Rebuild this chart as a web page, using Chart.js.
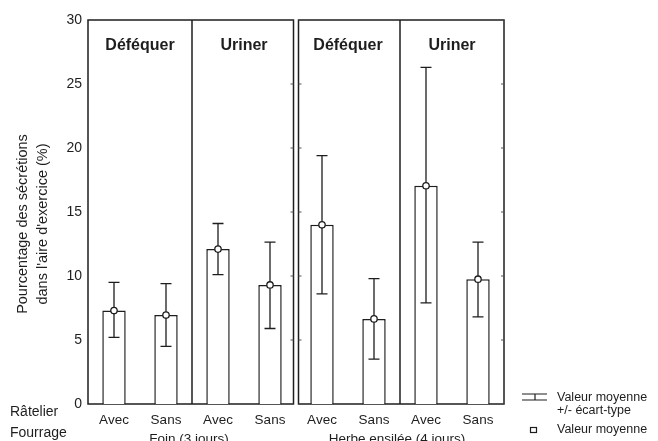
<!DOCTYPE html>
<html>
<head>
<meta charset="utf-8">
<script src="https://cdn.jsdelivr.net/npm/chart.js@4.4.1/dist/chart.umd.min.js"></script>
<style>
  body { margin: 0; background: #fff; }
  #wrap { width: 658px; height: 441px; }
</style>
</head>
<body>
<div id="wrap"><canvas id="chart" width="658" height="441"></canvas></div>
<script>
// categories (Râtelier), per fourrage group
const racks = ['Avec', 'Sans', 'Avec', 'Sans', 'Avec', 'Sans', 'Avec', 'Sans'];
const fodders = ['Foin (3 jours)', 'Herbe ensilée (4 jours)'];
const actions = ['Déféquer', 'Uriner', 'Déféquer', 'Uriner'];

// mean and mean +/- SD (%)
const means  = [7.3, 6.95, 12.1, 9.3, 14.0, 6.65, 17.05, 9.75];
const sdLow  = [5.2, 4.5, 10.1, 5.9, 8.6, 3.5, 7.9, 6.8];
const sdHigh = [9.5, 9.4, 14.1, 12.65, 19.4, 9.8, 26.3, 12.65];

const yTicks = [0, 5, 10, 15, 20, 25, 30];

const FONT = '"Liberation Sans", Arial, sans-serif';
const INK = '#1e1e1e';

// panel boxes, dividers and all the extra text
const decor = {
  id: 'decor',
  beforeDatasetsDraw(chart) {
    const { ctx, chartArea: a, scales: { x, y } } = chart;
    const mid = (x.getPixelForValue(3) + x.getPixelForValue(4)) / 2;
    ctx.save();
    ctx.strokeStyle = INK;
    ctx.lineWidth = 1.5;
    ctx.strokeRect(a.left, a.top, mid - 2.5 - a.left, a.bottom - a.top);
    ctx.strokeRect(mid + 2.5, a.top, a.right - mid - 2.5, a.bottom - a.top);
    // dividers between Déféquer / Uriner
    [1, 5].forEach(i => {
      const dx = (x.getPixelForValue(i) + x.getPixelForValue(i + 1)) / 2;
      ctx.beginPath();
      ctx.moveTo(dx, a.top);
      ctx.lineTo(dx, a.bottom);
      ctx.stroke();
    });
    // small inward ticks
    ctx.lineWidth = 1;
    ctx.strokeStyle = '#555';
    yTicks.forEach(v => {
      const py = y.getPixelForValue(v);
      [[mid - 2.5, -3], [mid + 2.5, 3], [a.right, -3]].forEach(([px, d]) => {
        ctx.beginPath();
        ctx.moveTo(px, py);
        ctx.lineTo(px + d, py);
        ctx.stroke();
      });
    });
    ctx.restore();
  },
  afterDraw(chart) {
    const { ctx, scales: { x } } = chart;
    ctx.save();
    ctx.fillStyle = INK;
    ctx.textBaseline = 'middle';

    // panel titles
    ctx.font = 'bold 16px ' + FONT;
    ctx.textAlign = 'center';
    actions.forEach((t, k) => {
      const cx = (x.getPixelForValue(2 * k) + x.getPixelForValue(2 * k + 1)) / 2;
      ctx.fillText(t, cx, 46);
    });

    // fodder labels under the axis (cut by the bottom edge, as in the scan)
    ctx.font = '13.5px ' + FONT;
    fodders.forEach((t, k) => {
      const cx = (x.getPixelForValue(4 * k) + x.getPixelForValue(4 * k + 3)) / 2 - 3;
      ctx.fillText(t, cx, 439);
    });

    // row names
    ctx.font = '14px ' + FONT;
    ctx.textAlign = 'left';
    ctx.fillText('Râtelier', 10, 412);
    ctx.fillText('Fourrage', 10, 433);

    // y title, two lines
    ctx.save();
    ctx.translate(0, 224);
    ctx.rotate(-Math.PI / 2);
    ctx.textAlign = 'center';
    ctx.font = '14.5px ' + FONT;
    ctx.fillText('Pourcentage des sécrétions', 0, 23);
    ctx.fillText("dans l'aire d'exercice (%)", 0, 43);
    ctx.restore();

    // legend
    ctx.strokeStyle = INK;
    ctx.lineWidth = 1.2;
    ctx.beginPath();
    ctx.moveTo(522, 394); ctx.lineTo(547, 394);
    ctx.moveTo(522, 400); ctx.lineTo(547, 400);
    ctx.moveTo(535, 394); ctx.lineTo(535, 400);
    ctx.stroke();
    ctx.strokeRect(530.5, 427.5, 6, 5);
    ctx.font = '12.5px ' + FONT;
    ctx.fillText('Valeur moyenne', 557, 398);
    ctx.fillText('+/- écart-type', 557, 411);
    ctx.fillText('Valeur moyenne', 557, 430);
    ctx.restore();
  }
};

// mean +/- SD whiskers, drawn right after the bars
const errorBars = {
  id: 'errorBars',
  afterDatasetDraw(chart, args) {
    if (args.index !== 0) return;
    const { ctx, scales: { x, y } } = chart;
    ctx.save();
    ctx.strokeStyle = INK;
    ctx.lineWidth = 1.3;
    sdLow.forEach((lo, i) => {
      const px = x.getPixelForValue(i);
      const yl = y.getPixelForValue(lo);
      const yh = y.getPixelForValue(sdHigh[i]);
      ctx.beginPath();
      ctx.moveTo(px, yh); ctx.lineTo(px, yl);
      ctx.moveTo(px - 5.5, yh); ctx.lineTo(px + 5.5, yh);
      ctx.moveTo(px - 5.5, yl); ctx.lineTo(px + 5.5, yl);
      ctx.stroke();
    });
    ctx.restore();
  }
};

new Chart(document.getElementById('chart'), {
  type: 'bar',
  data: {
    labels: racks,
    datasets: [{
      label: 'Moyenne',
      data: means,
      backgroundColor: '#fff',
      borderColor: INK,
      borderWidth: 1.5,
      barPercentage: 0.45,
      categoryPercentage: 1,
      order: 2
    }, {
      type: 'line',
      label: 'Valeur moyenne',
      data: means,
      showLine: false,
      pointStyle: 'circle',
      pointRadius: 3.2,
      pointBackgroundColor: '#fff',
      pointBorderColor: INK,
      pointBorderWidth: 1.3,
      order: 1
    }]
  },
  options: {
    responsive: false,
    animation: false,
    layout: { padding: { left: 0, right: 154, top: 20, bottom: 0 } },
    plugins: { legend: { display: false }, tooltip: { enabled: false } },
    scales: {
      x: {
        grid: { display: false, drawTicks: false },
        border: { display: false },
        ticks: { color: INK, font: { family: FONT, size: 13.5 }, padding: 8 },
        afterFit(scale) { scale.height = 37; }
      },
      y: {
        min: 0,
        max: 30,
        afterBuildTicks(scale) { scale.ticks = yTicks.map(v => ({ value: v })); },
        grid: { display: false, drawTicks: false },
        border: { display: false },
        ticks: { color: INK, font: { family: FONT, size: 14 }, padding: 6 },
        afterFit(scale) { scale.width = 88; }
      }
    }
  },
  plugins: [decor, errorBars]
});
</script>
</body>
</html>
